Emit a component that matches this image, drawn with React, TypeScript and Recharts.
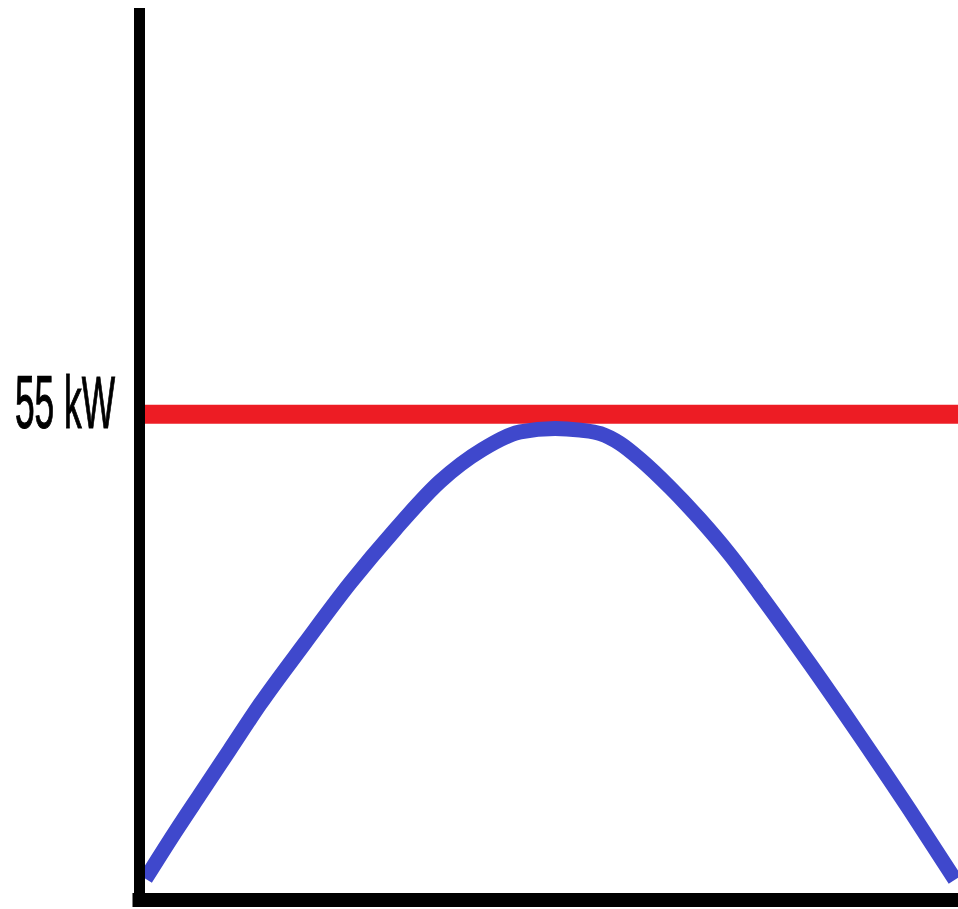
import React from "react";
import { LineChart, Line, XAxis, YAxis, ReferenceLine } from "recharts";

// ── Data ──────────────────────────────────────────────────────────────────────

// time position (0–100) and power draw in kW along the load curve
const timePoints = [
  0, 3.6, 6.7, 10.4, 14.1, 19.7, 25.3, 30.8, 36.4, 41.6, 46.3, 50.6,
  53.7, 56.2, 58.6, 61.1, 64.8, 68.5, 72.2, 75.9, 82.1, 88.3, 94.4, 100,
];
const powerKw = [
  2.4, 7.6, 11.9, 17.0, 22.1, 29.1, 35.9, 41.9, 47.4, 51.0, 53.0, 53.4,
  53.2, 52.8, 51.7, 49.9, 46.7, 43.1, 39.1, 34.6, 26.7, 18.5, 10.2, 2.3,
];

const limitKw = 55;
const yTicks = [limitKw];

const data = timePoints.map((t, i) => ({ t, kw: powerKw[i] }));

// ── Colours ───────────────────────────────────────────────────────────────────

const RED = "#ED1C24";
const BLUE = "#3F48CC";

function LimitTick({ y, payload }: { y?: number; payload?: { value: number } }) {
  if (payload == null || y == null) return null;
  return (
    <text
      x={15}
      y={y + 14}
      fontFamily="'Liberation Sans', Arial, sans-serif"
      fontSize={75}
      fill="#000"
      stroke="#000"
      strokeWidth={1.2}
      textLength={100}
      lengthAdjust="spacingAndGlyphs"
    >
      {`${payload.value} kW`}
    </text>
  );
}

export default function App() {
  return (
    <div style={{ position: "absolute", left: 0, top: 0, width: 958, height: 909, background: "#fff" }}>
      <LineChart width={958} height={909} data={data} margin={{ top: 8, right: 0, bottom: 0, left: 0 }}>
        <XAxis
          dataKey="t"
          type="number"
          domain={[0, 100]}
          padding={{ left: 6, right: 3 }}
          height={9}
          tick={false}
          tickLine={false}
          axisLine={{ stroke: "#000", strokeWidth: 14, strokeLinecap: "square" }}
        />
        <YAxis
          type="number"
          domain={[0, 101]}
          ticks={yTicks}
          width={139.5}
          tickLine={false}
          axisLine={{ stroke: "#000", strokeWidth: 11 }}
          tick={<LimitTick />}
        />
        <ReferenceLine y={limitKw} stroke={RED} strokeWidth={19} />
        <Line
          type="monotone"
          dataKey="kw"
          stroke={BLUE}
          strokeWidth={15}
          dot={false}
          activeDot={false}
          isAnimationActive={false}
        />
      </LineChart>
    </div>
  );
}
